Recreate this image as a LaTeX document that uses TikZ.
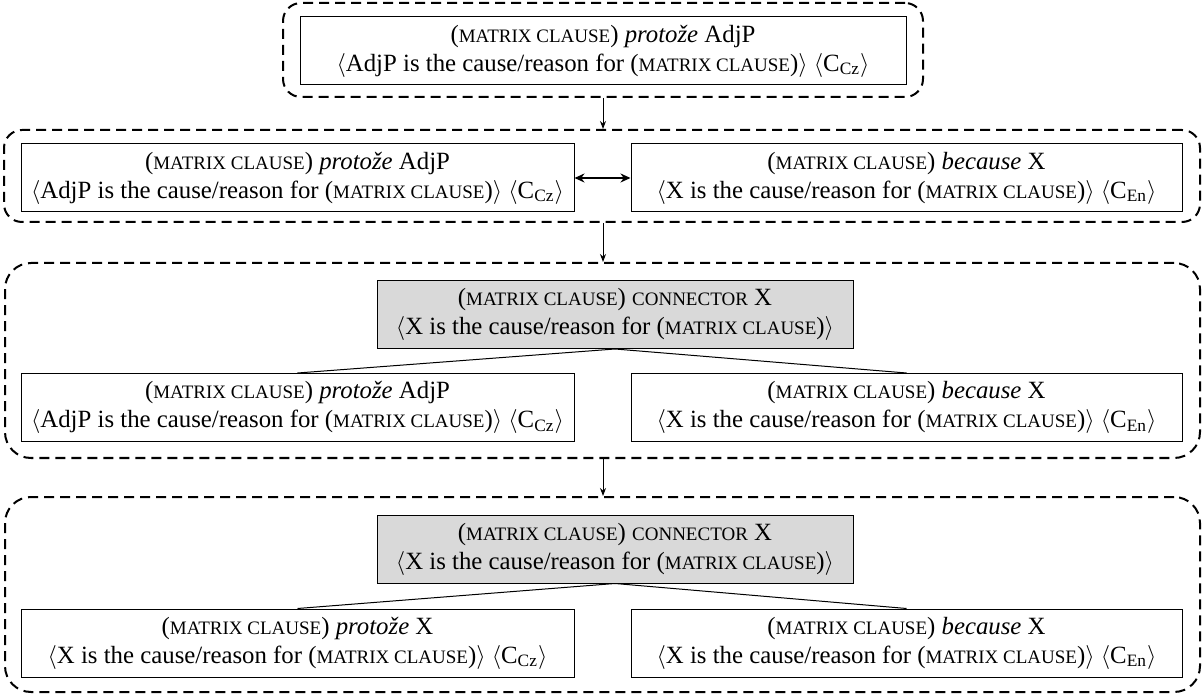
\documentclass[tikz,border=0pt]{standalone}
\usepackage{fontspec}
\setmainfont{Liberation Serif}
\usetikzlibrary{arrows.meta}
% reduced capitals standing in for small caps
\newcommand{\fsc}{\fontsize{9.5pt}{14.5pt}\selectfont}
\newcommand{\la}{$\langle$}
\newcommand{\ra}{$\rangle$}
\begin{document}
\begin{tikzpicture}[x=0.5pt,y=-0.5pt,
  grpbox/.style={draw, line width=1pt, dash pattern=on 5pt off 3pt,
    rounded corners=9pt, inner sep=0pt},
  tallgrp/.style={grpbox, rounded corners=13pt},
  txtbox/.style={draw, line width=0.5pt, inner sep=0pt, align=center,
    minimum height=34pt, fill=white,
    font=\fontsize{12.4pt}{14.5pt}\selectfont},
  greybox/.style={txtbox, fill=black!15},
  flow/.style={-{Stealth[length=4pt,width=3pt]}, line width=0.5pt},
  twoway/.style={{Stealth[length=5pt,width=4.5pt]}-{Stealth[length=5pt,width=4.5pt]}, line width=1pt},
  branch/.style={line width=0.5pt}]
\useasboundingbox (0,0) rectangle (1203,694);

% dashed stage frames
\node[grpbox, minimum width=320pt, minimum height=47pt] (grp1) at (603,50) {};
\node[grpbox, minimum width=598pt, minimum height=46pt] (grp2) at (602,176) {};
\node[tallgrp, minimum width=597.5pt, minimum height=97.5pt] (grp3) at (602.5,360.5) {};
\node[tallgrp, minimum width=597.5pt, minimum height=97.5pt] (grp4) at (602.5,594.5) {};

% stage 1
\node[txtbox, minimum width=303pt] (s1) at (603,51)
  {({\fsc MATRIX CLAUSE}) \textit{protože} AdjP\\
   \la AdjP is the cause/reason for ({\fsc MATRIX CLAUSE})\ra{} \la C\textsubscript{Cz}\ra};

% stage 2
\node[txtbox, minimum width=276.5pt] (s2l) at (297.5,178)
  {({\fsc MATRIX CLAUSE}) \textit{protože} AdjP\\
   \la AdjP is the cause/reason for ({\fsc MATRIX CLAUSE})\ra{} \la C\textsubscript{Cz}\ra};
\node[txtbox, minimum width=275.5pt] (s2r) at (906.5,178)
  {({\fsc MATRIX CLAUSE}) \textit{because} X\\
   \la X is the cause/reason for ({\fsc MATRIX CLAUSE})\ra{} \la C\textsubscript{En}\ra};

% stage 3
\node[greybox, minimum width=238pt] (s3c) at (615,314.5)
  {({\fsc MATRIX CLAUSE}) {\fsc CONNECTOR} X\\
   \la X is the cause/reason for ({\fsc MATRIX CLAUSE})\ra};
\node[txtbox, minimum width=276.5pt] (s3l) at (297.5,407.5)
  {({\fsc MATRIX CLAUSE}) \textit{protože} AdjP\\
   \la AdjP is the cause/reason for ({\fsc MATRIX CLAUSE})\ra{} \la C\textsubscript{Cz}\ra};
\node[txtbox, minimum width=275.5pt] (s3r) at (906.5,407.5)
  {({\fsc MATRIX CLAUSE}) \textit{because} X\\
   \la X is the cause/reason for ({\fsc MATRIX CLAUSE})\ra{} \la C\textsubscript{En}\ra};

% stage 4
\node[greybox, minimum width=238pt] (s4c) at (615,549)
  {({\fsc MATRIX CLAUSE}) {\fsc CONNECTOR} X\\
   \la X is the cause/reason for ({\fsc MATRIX CLAUSE})\ra};
\node[txtbox, minimum width=276.5pt] (s4l) at (297.5,643)
  {({\fsc MATRIX CLAUSE}) \textit{protože} X\\
   \la X is the cause/reason for ({\fsc MATRIX CLAUSE})\ra{} \la C\textsubscript{Cz}\ra};
\node[txtbox, minimum width=275.5pt] (s4r) at (906.5,643)
  {({\fsc MATRIX CLAUSE}) \textit{because} X\\
   \la X is the cause/reason for ({\fsc MATRIX CLAUSE})\ra{} \la C\textsubscript{En}\ra};

% links between stages
\draw[flow] (grp1.south -| s1.south) -- (grp2.north -| s1.south);
\draw[flow] (grp2.south -| s1.south) -- (grp3.north -| s1.south);
\draw[flow] (grp3.south -| s1.south) -- (grp4.north -| s1.south);

% correspondence inside stage 2
\draw[twoway] (s2l.east) -- (s2r.west);

% generalisation branches
\draw[branch] (s3c.south) -- (s3l.north);
\draw[branch] (s3c.south) -- (s3r.north);
\draw[branch] (s4c.south) -- (s4l.north);
\draw[branch] (s4c.south) -- (s4r.north);
\end{tikzpicture}
\end{document}
